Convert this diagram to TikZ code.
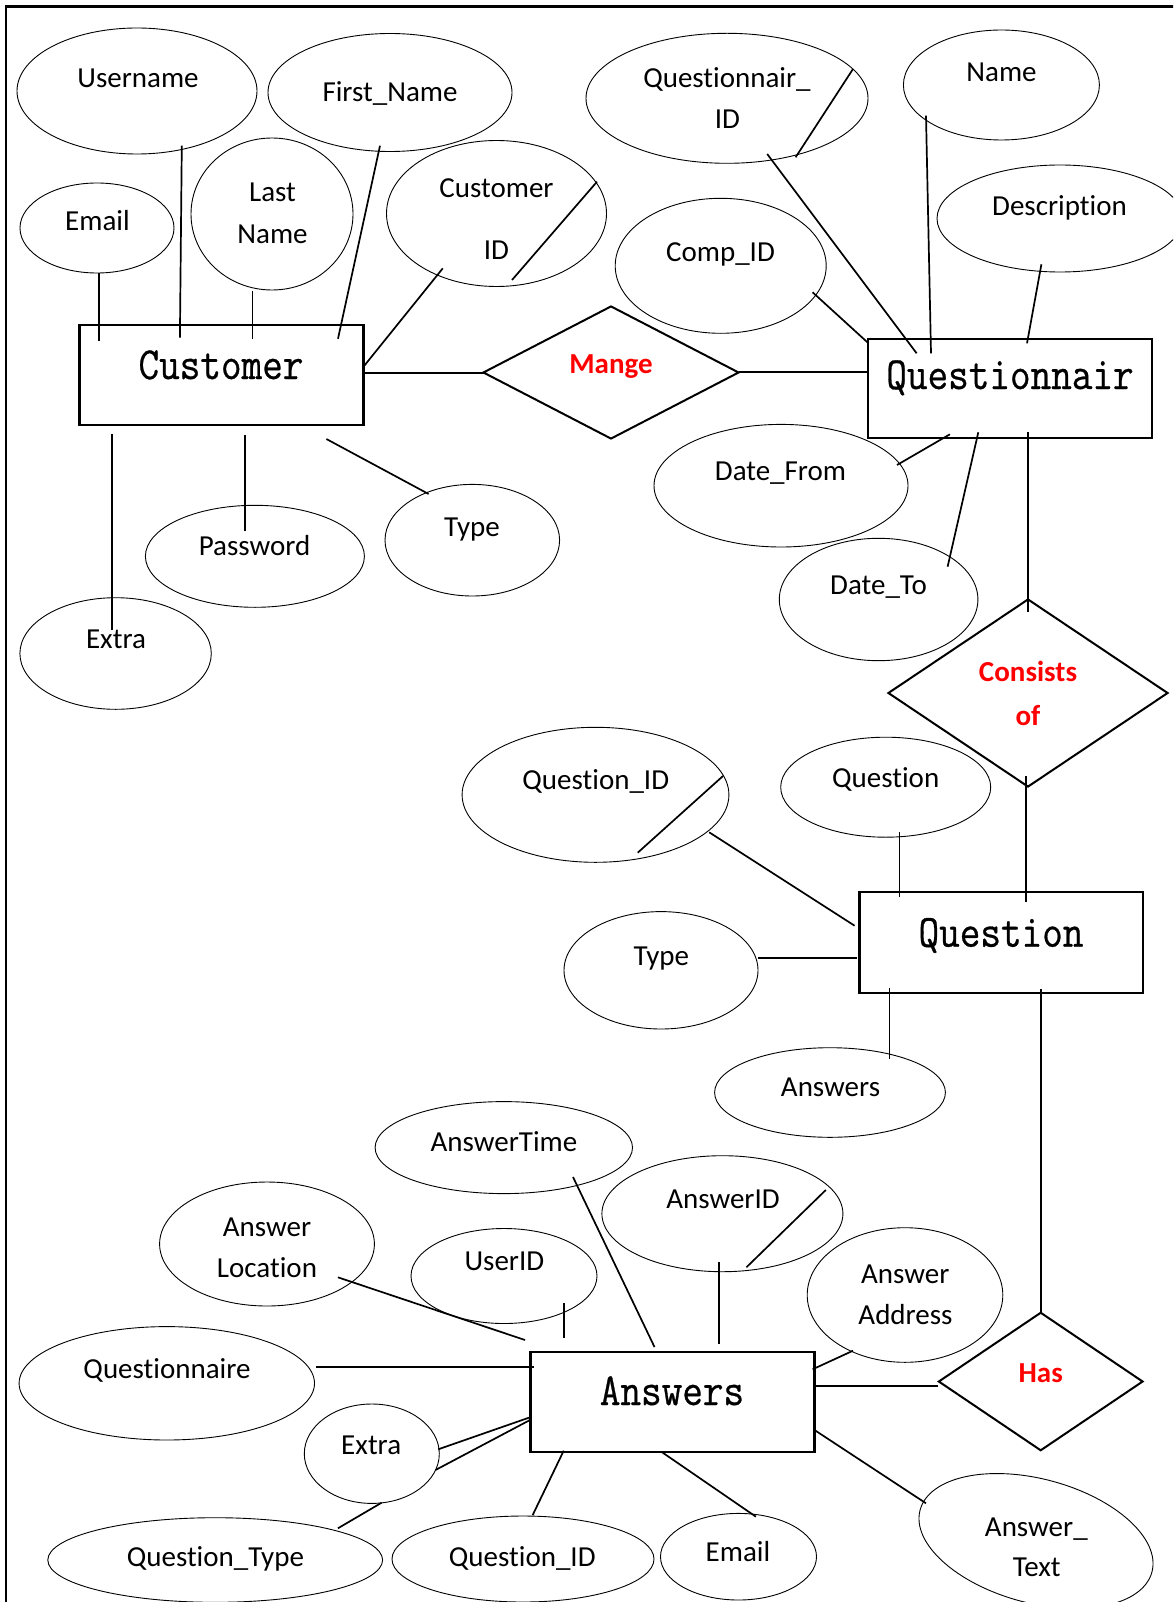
\documentclass[tikz,border=0pt]{standalone}
\usepackage{fontspec}
\setmainfont{Carlito}[Ligatures=NoCommon]
\newfontfamily\entfont{Latin Modern Mono}[FakeStretch=0.87, FakeBold=0.6]
\usetikzlibrary{shapes.geometric}
\definecolor{relred}{RGB}{255,0,0}
\tikzset{
  attr/.style={ellipse, draw, line width=0.9pt, inner sep=0pt},
  entity/.style={rectangle, draw, line width=2.7pt, inner sep=0pt,
                 minimum width=284pt, minimum height=100pt},
  rel/.style={diamond, draw, line width=2pt, inner sep=0pt},
  conn/.style={line width=1.7pt},
  lbl/.style={anchor=base, inner sep=0pt, font=\fontsize{29}{35}\selectfont},
  rlbl/.style={anchor=base, inner sep=0pt, text=relred,
               font=\fontsize{29}{35}\selectfont\bfseries},
  ename/.style={anchor=base, inner sep=0pt, font=\entfont\fontsize{46}{50}\selectfont}
}

\begin{document}
\begin{tikzpicture}[x=1pt, y=-1pt]
\useasboundingbox (0,0) rectangle (1173,1602);
\clip (0,0) rectangle (1173,1602);

% page frame
\draw[line width=2.8pt] (6,1620) -- (6,6.7) -- (1190,6.7);

% ---------- entities ----------
\node[entity] (customer) at (221.75,375) {};
\node[ename] (customer-t) at (221,379) {Customer};
\node[entity, minimum height=99pt] (questionnair) at (1010,388.5) {};
\node[ename] (questionnair-t) at (1010,389) {Questionnair};
\node[entity, minimum width=283.5pt, minimum height=101pt] (question) at (1001.25,942.5) {};
\node[ename] (question-t) at (1001,946.7) {Question};
\node[entity] (answers) at (672.5,1402) {};
\node[ename] (answers-t) at (672,1405) {Answers};

% ---------- relationships ----------
\node[rel, minimum width=256pt, minimum height=133pt] (mange) at (611,372.5) {};
\node[rlbl] (mange-t) at (611,373.3) {Mange};
\node[rel, minimum width=280pt, minimum height=188pt] (consists) at (1028,693) {};
\node[rlbl] (consists-t1) at (1028,681) {Consists};
\node[rlbl] (consists-t2) at (1028,725) {of};
\node[rel, minimum width=204.6pt, minimum height=138.4pt] (has) at (1040.7,1381.5) {};
\node[rlbl] (has-t) at (1040.7,1382.7) {Has};

% ---------- Customer attributes ----------
\node[attr, minimum width=240pt, minimum height=126pt] (username) at (137,91) {};
\node[lbl] (username-t) at (138,87.3) {Username};
\node[attr, minimum width=244pt, minimum height=118pt] (firstname) at (390,92.5) {};
\node[lbl] (firstname-t) at (390,101.5) {First\_Name};
\node[attr, minimum width=162pt, minimum height=152pt] (lastname) at (272,214) {};
\node[lbl] (lastname-t1) at (272.5,201.7) {Last};
\node[lbl] (lastname-t2) at (272.5,243.3) {Name};
\node[attr, minimum width=154pt, minimum height=90pt] (email) at (97,228) {};
\node[lbl] (email-t) at (97.5,230.7) {Email};
\node[attr, minimum width=220pt, minimum height=146pt] (custid) at (496.5,213.5) {};
\node[lbl] (custid-t1) at (496.5,197.3) {Customer};
\node[lbl] (custid-t2) at (496.5,259.3) {ID};
\node[attr, minimum width=191.4pt, minimum height=111.6pt] (extra) at (115.6,653.5) {};
\node[lbl] (extra-t) at (116,648.7) {Extra};
\node[attr, minimum width=219pt, minimum height=102pt] (password) at (254.9,556.3) {};
\node[lbl] (password-t) at (254.5,555.7) {Password};
\node[attr, minimum width=174.6pt, minimum height=111.6pt] (ctype) at (472.3,540.2) {};
\node[lbl] (ctype-t) at (472,536) {Type};

% ---------- Questionnair attributes ----------
\node[attr, minimum width=282pt, minimum height=130pt] (qnid) at (727,98.3) {};
\node[lbl] (qnid-t1) at (727,87.3) {Questionnair\_};
\node[lbl] (qnid-t2) at (727.5,129) {ID};
\node[attr, minimum width=196pt, minimum height=110pt] (qnname) at (1001.4,85) {};
\node[lbl] (qnname-t) at (1001.5,81.7) {Name};
\node[attr, minimum width=246pt, minimum height=107pt] (descr) at (1060,218.5) {};
\node[lbl] (descr-t) at (1059.5,215.7) {Description};
\node[attr, minimum width=211pt, minimum height=135pt] (compid) at (720.7,265.8) {};
\node[lbl] (compid-t) at (720.5,261.7) {Comp\_ID};
\node[attr, minimum width=254pt, minimum height=122.6pt] (datefrom) at (781,485.7) {};
\node[lbl] (datefrom-t) at (780.5,480) {Date\_From};
\node[attr, minimum width=198.6pt, minimum height=122.4pt] (dateto) at (878.6,599.5) {};
\node[lbl] (dateto-t) at (878.5,594) {Date\_To};

% ---------- Question attributes ----------
\node[attr, minimum width=266.8pt, minimum height=135pt] (qid) at (595.5,794.8) {};
\node[lbl] (qid-t) at (595.8,789) {Question\_ID};
\node[attr, minimum width=210pt, minimum height=100pt] (qtext) at (885.7,787.2) {};
\node[lbl] (qtext-t) at (885.7,787.7) {Question};
\node[attr, minimum width=194pt, minimum height=117.4pt] (qtype) at (661,970.3) {};
\node[lbl] (qtype-t) at (661.3,965.7) {Type};
\node[attr, minimum width=230.8pt, minimum height=89.6pt] (qans) at (830,1092.5) {};
\node[lbl] (qans-t) at (830.5,1096) {Answers};

% ---------- Answers attributes ----------
\node[attr, minimum width=257.4pt, minimum height=92pt] (atime) at (503.8,1147.6) {};
\node[lbl] (atime-t) at (504,1151.7) {AnswerTime};
\node[attr, minimum width=214.8pt, minimum height=124pt] (aloc) at (267,1244) {};
\node[lbl] (aloc-t1) at (267,1236) {Answer};
\node[lbl] (aloc-t2) at (267,1277.3) {Location};
\node[attr, minimum width=186pt, minimum height=95pt] (auser) at (504,1276) {};
\node[lbl] (auser-t) at (504.4,1270) {UserID};
\node[attr, minimum width=241pt, minimum height=116pt] (aid) at (722.4,1213.7) {};
\node[lbl] (aid-t) at (723,1208.3) {AnswerID};
\node[attr, minimum width=195.6pt, minimum height=134.6pt] (aaddr) at (905,1295) {};
\node[lbl] (aaddr-t1) at (905.3,1283.3) {Answer};
\node[lbl] (aaddr-t2) at (905.5,1324) {Address};
\node[attr, minimum width=295.4pt, minimum height=113.4pt] (aqn) at (166.8,1383.3) {};
\node[lbl] (aqn-t) at (167,1378.3) {Questionnaire};
\node[attr, minimum width=135pt, minimum height=99.4pt] (aextra) at (371.8,1453.7) {};
\node[lbl] (aextra-t) at (371.2,1454) {Extra};
\node[attr, minimum width=334.8pt, minimum height=84.6pt] (aqtype) at (215.2,1560) {};
\node[lbl] (aqtype-t) at (215.4,1566) {Question\_Type};
\node[attr, minimum width=262pt, minimum height=86pt] (aqid) at (523,1559) {};
\node[lbl] (aqid-t) at (522.3,1566) {Question\_ID};
\node[attr, minimum width=156pt, minimum height=86.6pt] (aemail) at (738.5,1556.7) {};
\node[lbl] (aemail-t) at (738,1561.7) {Email};
\node[attr, minimum width=240pt, minimum height=124pt, rotate=-15] (atext) at (1036,1541) {};
\node[lbl] (atext-t1) at (1036.3,1536) {Answer\_};
\node[lbl] (atext-t2) at (1036.7,1576) {Text};

% ---------- connector end points ----------
\coordinate (email-e) at (98.7,273);     \coordinate (email-c) at (98.7,341);
\coordinate (username-e) at (181.8,145.7); \coordinate (username-c) at (179.9,337.7);
\coordinate (lastname-e) at (252.6,290.7); \coordinate (lastname-c) at (252.6,339.3);
\coordinate (firstname-e) at (380,145.7); \coordinate (firstname-c) at (338,338.7);
\coordinate (custid-e) at (442.8,268.3);  \coordinate (custid-c) at (364.3,365.7);
\coordinate (custid-k1) at (512,280);     \coordinate (custid-k2) at (597,181.7);
\coordinate (cust-m) at (364.3,373.3);    \coordinate (mange-l) at (484,373.3);
\coordinate (extra-c) at (112.1,434.3);   \coordinate (extra-e) at (112.1,630);
\coordinate (password-c) at (245.3,435);  \coordinate (password-e) at (245.3,530.7);
\coordinate (ctype-c) at (326.4,439);     \coordinate (ctype-e) at (428.6,494);
\coordinate (mange-r) at (738.9,372.3);   \coordinate (qn-m) at (868,372.3);
\coordinate (qnid-e) at (767.2,154);      \coordinate (qnid-c) at (916.6,353.3);
\coordinate (qnid-k1) at (853,69);        \coordinate (qnid-k2) at (795.6,157.3);
\coordinate (qnname-e) at (926,115.7);    \coordinate (qnname-c) at (931,353.3);
\coordinate (descr-e) at (1041.4,264.3);  \coordinate (descr-c) at (1027,343.3);
\coordinate (compid-e) at (812.6,292.3);  \coordinate (compid-c) at (867.4,342.3);
\coordinate (datefrom-c) at (949.9,434.3); \coordinate (datefrom-e) at (897,465);
\coordinate (dateto-c) at (978.3,432.3);  \coordinate (dateto-e) at (947.6,566.7);
\coordinate (qn-cons) at (1028.2,432.3);  \coordinate (cons-t) at (1028.2,612.3);
\coordinate (cons-b) at (1026.2,776);     \coordinate (q-cons) at (1026.2,901.7);
\coordinate (qid-e) at (709.2,832.3);     \coordinate (qid-c) at (854.6,925.7);
\coordinate (qid-k1) at (723,776);        \coordinate (qid-k2) at (637.7,852.7);
\coordinate (qtext-e) at (899.5,832.3);   \coordinate (qtext-c) at (899.5,897.3);
\coordinate (qtype-e) at (758,958.3);     \coordinate (qtype-c) at (856.6,958.3);
\coordinate (qans-c) at (889.6,987.7);    \coordinate (qans-e) at (889.6,1059.3);
\coordinate (q-has) at (1041,989.3);      \coordinate (has-t) at (1041,1312.3);
\coordinate (a-has) at (814.5,1386);      \coordinate (has-l) at (938.2,1386);
\coordinate (aid-e) at (718.8,1262.3);    \coordinate (aid-c) at (718.8,1344.3);
\coordinate (aid-k1) at (825.8,1190);     \coordinate (aid-k2) at (746.4,1267.3);
\coordinate (atime-e) at (573,1177);      \coordinate (atime-c) at (654.5,1347);
\coordinate (aaddr-e) at (853,1350.7);    \coordinate (aaddr-c) at (812.6,1369.3);
\coordinate (aemail-c) at (661.3,1451.7); \coordinate (aemail-e) at (755.9,1516.7);
\coordinate (atext-c) at (814.5,1430);    \coordinate (atext-e) at (926,1503.3);
\coordinate (aloc-e) at (337.9,1277.3);   \coordinate (aloc-c) at (525,1340);
\coordinate (auser-e) at (563.7,1303.3);  \coordinate (auser-c) at (563.7,1338.3);
\coordinate (aqn-e) at (316.1,1367.3);    \coordinate (aqn-c) at (533.9,1367.3);
\coordinate (aextra-e1) at (438.2,1449.3); \coordinate (aextra-c1) at (530,1417.3);
\coordinate (aextra-e2) at (435.5,1470);  \coordinate (aextra-c2) at (530,1420);
\coordinate (aextra-b) at (381.6,1502.7); \coordinate (aqtype-e) at (337.9,1528.3);
\coordinate (aqid-c) at (563.7,1450.7);   \coordinate (aqid-e) at (532.7,1515);

% ---------- connectors ----------
\draw[conn] (email-e) -- (email-c);
\draw[conn] (username-e) -- (username-c);
\draw[conn] (lastname-e) -- (lastname-c);
\draw[conn] (firstname-e) -- (firstname-c);
\draw[conn] (custid-e) -- (custid-c);
\draw[conn] (custid-k1) -- (custid-k2);
\draw[conn] (cust-m) -- (mange-l);
\draw[conn] (extra-c) -- (extra-e);
\draw[conn] (password-c) -- (password-e);
\draw[conn] (ctype-c) -- (ctype-e);
\draw[conn] (mange-r) -- (qn-m);
\draw[conn] (qnid-e) -- (qnid-c);
\draw[conn] (qnid-k1) -- (qnid-k2);
\draw[conn] (qnname-e) -- (qnname-c);
\draw[conn] (descr-e) -- (descr-c);
\draw[conn] (compid-e) -- (compid-c);
\draw[conn] (datefrom-c) -- (datefrom-e);
\draw[conn] (dateto-c) -- (dateto-e);
\draw[conn] (qn-cons) -- (cons-t);
\draw[conn] (cons-b) -- (q-cons);
\draw[conn] (qid-e) -- (qid-c);
\draw[conn] (qid-k1) -- (qid-k2);
\draw[conn] (qtext-e) -- (qtext-c);
\draw[conn] (qtype-e) -- (qtype-c);
\draw[conn] (qans-c) -- (qans-e);
\draw[conn] (q-has) -- (has-t);
\draw[conn] (a-has) -- (has-l);
\draw[conn] (aid-e) -- (aid-c);
\draw[conn] (aid-k1) -- (aid-k2);
\draw[conn] (atime-e) -- (atime-c);
\draw[conn] (aaddr-e) -- (aaddr-c);
\draw[conn] (aemail-c) -- (aemail-e);
\draw[conn] (atext-c) -- (atext-e);
\draw[conn] (aloc-e) -- (aloc-c);
\draw[conn] (auser-e) -- (auser-c);
\draw[conn] (aqn-e) -- (aqn-c);
\draw[conn] (aextra-e1) -- (aextra-c1);
\draw[conn] (aextra-e2) -- (aextra-c2);
\draw[conn] (aextra-b) -- (aqtype-e);
\draw[conn] (aqid-c) -- (aqid-e);
\end{tikzpicture}
\end{document}
